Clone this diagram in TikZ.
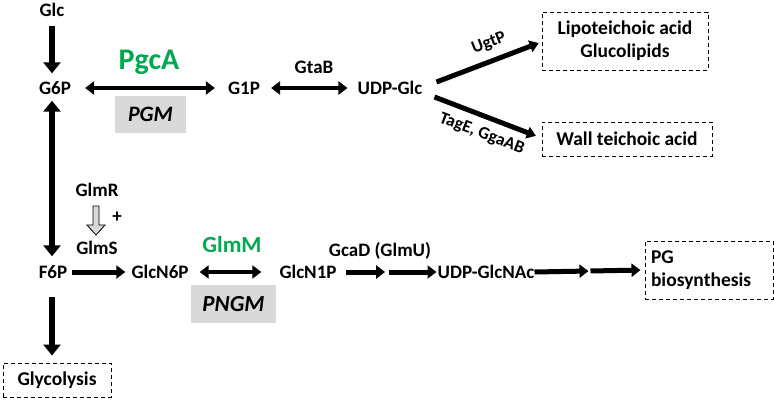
\documentclass[tikz,border=0pt]{standalone}
\usepackage{fontspec}
\setmainfont{Carlito}
\usetikzlibrary{arrows.meta,calc}
\definecolor{enzgreen}{RGB}{0,168,80}
\definecolor{boxgray}{RGB}{217,217,217}
\tikzset{
  lbl/.style={font=\bfseries\fontsize{19}{21}\selectfont, inner sep=0pt, text depth=0pt},
  biglbl/.style={font=\bfseries\fontsize{30}{32}\selectfont, text=enzgreen, inner sep=0pt},
  midlbl/.style={font=\bfseries\fontsize{23}{25}\selectfont, text=enzgreen, inner sep=0pt},
  graybox/.style={fill=boxgray, draw=none, font=\bfseries\itshape\fontsize{22}{24}\selectfont, minimum width=71pt, minimum height=37pt, inner sep=0pt},
  graybox2/.style={graybox, font=\bfseries\itshape\fontsize{23}{25}\selectfont, minimum width=85pt, minimum height=38pt},
  dashbox/.style={draw, dashed, line width=1pt, dash pattern=on 4pt off 3pt, font=\bfseries\fontsize{19.5}{23}\selectfont, inner sep=0pt},
  bigarrow/.style={line width=6pt, -{Triangle[length=11pt,width=17pt]}},
  bigdbl/.style={line width=6pt, {Triangle[length=11pt,width=17pt]}-{Triangle[length=11pt,width=17pt]}},
  dbl/.style={line width=4pt, {Triangle[length=9pt,width=13pt]}-{Triangle[length=9pt,width=13pt]}},
  harrow/.style={line width=5pt, -{Triangle[length=9pt,width=13pt]}},
  diag/.style={line width=5pt, -{Triangle[length=9pt,width=12pt]}},
  slbl/.style={font=\bfseries\fontsize{17.5}{19}\selectfont, inner sep=0pt},
}
\begin{document}
\begin{tikzpicture}[x=1pt,y=-1pt]
\useasboundingbox (0,0) rectangle (774,400);
% metabolites
\node[lbl] (glc) at (52,10) {Glc};
\node[lbl] (g6p) at (55,88) {G6P};
\node[lbl] (g1p) at (244,88) {G1P};
\node[lbl] (udpglc) at (390,88) {UDP-Glc};
\node[lbl] (f6p) at (53,272) {F6P};
\node[lbl] (glcn6p) at (160,272) {GlcN6P};
\node[lbl] (glcn1p) at (308,272) {GlcN1P};
\node[lbl] (udpglcnac) at (486,272) {UDP-GlcNAc};
\node[lbl] (glmr) at (97,190) {GlmR};
\node[lbl] (glms) at (97,248) {GlmS};
\node[lbl] (gtab) at (314,67) {GtaB};
\node[lbl] (gcad) at (380,249) {GcaD (GlmU)};
\node[font=\bfseries\fontsize{19}{21}\selectfont, inner sep=0pt] (plus) at (117,217) {+};
% enzymes
\node[biglbl] (pgca) at (149,62) {PgcA};
\node[graybox] (pgm) at (150.5,114.5) {PGM};
\node[midlbl] (glmm) at (232,245) {GlmM};
\node[graybox2] (pngm) at (233.5,304) {PNGM};
% end boxes
\node[dashbox, minimum width=166pt, minimum height=58pt, align=center] (lipo) at (625,41) {Lipoteichoic acid\\Glucolipids};
\node[dashbox, minimum width=170pt, minimum height=34pt] (wall) at (627,139) {Wall teichoic acid};
\node[dashbox, minimum width=108pt, minimum height=34pt] (glyco) at (57,380) {Glycolysis};
\node[dashbox, minimum width=128pt, minimum height=58pt, align=left, text width=116pt] (pg) at (709,270) {PG\\biosynthesis};
% connectors
\draw[bigarrow, shorten <=9pt, shorten >=8pt] (glc.south) -- (glc.south |- g6p.north);
\draw[dbl, shorten <=14pt, shorten >=13pt] (g6p.east) -- (g1p.west);
\draw[dbl, shorten <=11pt, shorten >=10pt] (g1p.east) -- (udpglc.west);
\draw[bigdbl, shorten <=6pt, shorten >=9pt] (g6p.south -| glc.south) -- (f6p.north -| glc.south);
\draw[bigarrow, shorten <=18pt, shorten >=7pt] (f6p.south -| glc.south) -- (glyco.north -| glc.south);
\draw[harrow, shorten <=5pt, shorten >=6pt] (f6p.east) -- (glcn6p.west);
\draw[dbl, shorten <=11pt, shorten >=18pt] (glcn6p.east) -- (glcn1p.west);
\coordinate (m1) at ($(glcn1p.east)!0.5!(udpglcnac.west)$);
\draw[harrow, shorten <=9pt, shorten >=2pt] (glcn1p.east) -- (m1);
\draw[harrow, shorten <=2pt, shorten >=1pt] (m1) -- (udpglcnac.west);
\coordinate (m2) at ($(udpglcnac.east)!0.5!(pg.west)$);
\draw[harrow, shorten >=1pt] (udpglcnac.east) -- (m2);
\draw[harrow, shorten <=1pt, shorten >=4pt] (m2) -- (pg.west);
\draw[diag, shorten >=3pt] ($(udpglc.east)+(14,-6)$) -- node[slbl, sloped, above=8pt, pos=0.56] {UgtP} ($(lipo.west)+(0,1)$);
\draw[diag, shorten >=6pt] ($(udpglc.east)+(12,9)$) -- node[slbl, sloped, below=8pt, pos=0.5] {TagE, GgaAB} ($(wall.west)+(0,-1)$);
% hollow activation arrow
\draw[line width=0.8pt, fill=boxgray] (93,206) -- (99,206) -- (99,225) -- (105,225) -- (96,235) -- (87,225) -- (93,225) -- cycle;
\end{tikzpicture}
\end{document}
